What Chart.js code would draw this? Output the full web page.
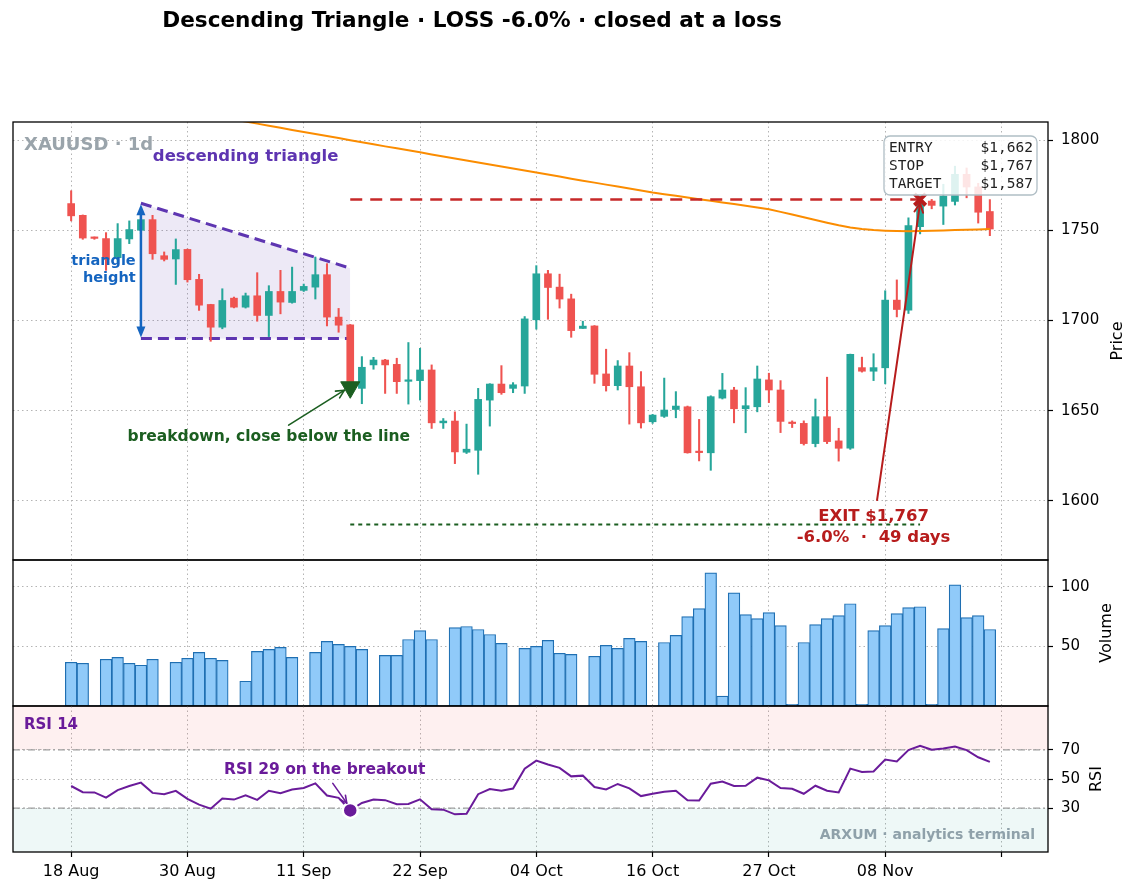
<!DOCTYPE html>
<html>
<head>
<meta charset="utf-8">
<script src="https://cdn.jsdelivr.net/npm/chart.js@4.4.1/dist/chart.umd.min.js"></script>
<style>
html,body{margin:0;padding:0;background:#fff;}
#wrap{position:relative;width:1139px;height:894px;overflow:hidden;background:#fff;}
canvas{position:absolute;left:0;}
</style>
</head>
<body>
<div id="wrap">
<canvas id="cPrice" width="1139" height="562" style="top:0px"></canvas>
<canvas id="cVol" width="1139" height="149" style="top:559px"></canvas>
<canvas id="cRsi" width="1139" height="189" style="top:705px"></canvas>
</div>
<script>
// ---------------- data ----------------
const tickIdx = [0, 10, 20, 30, 40, 50, 60, 70, 80];
const xLabels = ['18 Aug', '30 Aug', '11 Sep', '22 Sep', '04 Oct', '16 Oct', '27 Oct', '08 Nov', ''];

const opens = [
1764.8, 1758.3, 1746.0, 1745.4, 1734.8, 1745.2, 1750.0, 1755.9, 1735.9, 1734.1,
1739.4, 1722.8, 1708.9, 1696.3, 1712.4, 1707.4, 1713.7, 1702.8, 1716.1, 1710.0,
1716.7, 1718.5, 1725.4, 1701.9, 1697.6, 1662.4, 1675.4, 1678.1, 1675.7, 1666.3,
1666.7, 1672.6, 1643.3, 1644.3, 1627.0, 1628.1, 1655.9, 1664.8, 1662.4, 1663.7,
1700.4, 1725.9, 1718.5, 1712.0, 1695.6, 1697.0, 1670.4, 1663.9, 1674.8, 1663.3,
1643.9, 1646.9, 1650.7, 1652.2, 1627.2, 1626.7, 1657.0, 1661.5, 1651.1, 1652.2,
1667.1, 1661.5, 1643.2, 1643.0, 1631.8, 1646.7, 1633.3, 1629.2, 1673.9, 1671.9,
1673.8, 1711.3, 1705.8, 1752.0, 1766.2, 1763.4, 1766.0, 1781.0, 1774.0, 1760.4
];
const highs = [
1771.9, 1758.5, 1746.3, 1748.7, 1753.7, 1755.2, 1758.0, 1758.3, 1738.0, 1745.2,
1739.6, 1725.6, 1709.0, 1717.6, 1713.0, 1715.2, 1726.5, 1719.3, 1727.8, 1729.6,
1720.2, 1735.2, 1731.5, 1706.7, 1697.8, 1680.0, 1679.6, 1678.5, 1679.1, 1687.8,
1684.6, 1675.4, 1645.7, 1649.4, 1642.6, 1662.4, 1665.0, 1675.0, 1665.6, 1702.2,
1730.4, 1727.8, 1725.7, 1714.6, 1699.6, 1697.2, 1684.1, 1677.8, 1682.2, 1671.7,
1648.0, 1668.1, 1660.6, 1652.6, 1645.2, 1658.3, 1670.7, 1663.0, 1662.8, 1674.8,
1670.8, 1666.7, 1644.4, 1644.4, 1656.5, 1668.6, 1640.3, 1681.4, 1679.7, 1681.6,
1716.5, 1722.5, 1756.9, 1769.0, 1767.1, 1775.5, 1785.5, 1784.5, 1776.0, 1767.0
];
const lows = [
1755.2, 1745.0, 1745.0, 1727.8, 1732.4, 1742.6, 1748.0, 1733.9, 1733.0, 1720.0,
1721.3, 1705.6, 1688.5, 1695.4, 1707.0, 1706.9, 1699.6, 1691.1, 1703.7, 1709.6,
1716.1, 1711.9, 1697.0, 1693.5, 1660.0, 1653.9, 1673.0, 1659.6, 1659.6, 1653.7,
1655.9, 1640.2, 1640.2, 1620.7, 1626.3, 1614.8, 1641.5, 1659.1, 1660.0, 1659.6,
1695.2, 1700.7, 1706.9, 1690.7, 1695.6, 1665.2, 1660.9, 1661.5, 1642.6, 1640.4,
1643.0, 1646.3, 1646.1, 1626.5, 1622.2, 1617.0, 1656.5, 1643.3, 1637.8, 1649.4,
1654.5, 1637.9, 1640.7, 1631.0, 1630.0, 1631.8, 1622.1, 1628.6, 1671.4, 1666.7,
1664.9, 1702.0, 1703.9, 1748.0, 1761.9, 1753.2, 1764.0, 1768.0, 1754.0, 1747.0
];
const closes = [
1758.0, 1745.7, 1745.5, 1733.9, 1745.4, 1750.4, 1755.9, 1737.0, 1733.9, 1739.3,
1722.6, 1708.5, 1696.3, 1711.1, 1707.4, 1713.7, 1702.8, 1716.1, 1710.2, 1716.1,
1718.9, 1725.4, 1701.9, 1697.4, 1662.0, 1674.1, 1678.1, 1675.4, 1666.1, 1666.7,
1672.6, 1643.3, 1644.3, 1627.2, 1628.7, 1656.3, 1664.8, 1660.0, 1664.4, 1700.9,
1725.9, 1718.3, 1711.9, 1694.4, 1696.9, 1670.2, 1663.9, 1674.8, 1663.3, 1643.3,
1647.6, 1650.4, 1652.6, 1626.7, 1626.8, 1657.8, 1661.5, 1651.1, 1652.8, 1667.6,
1661.5, 1644.1, 1642.9, 1631.8, 1646.7, 1632.9, 1629.2, 1681.2, 1671.9, 1673.9,
1711.3, 1706.1, 1752.6, 1766.0, 1763.8, 1769.0, 1781.0, 1774.0, 1760.0, 1750.7
];
const movingAvg = [
1827.5, 1826.3, 1825.2, 1824.0, 1822.9, 1821.7, 1820.6, 1819.4, 1818.3, 1817.1,
1816.0, 1814.8, 1813.7, 1812.5, 1811.4, 1810.2, 1809.1, 1807.9, 1806.8, 1805.6,
1804.5, 1803.4, 1802.2, 1801.1, 1799.9, 1798.8, 1797.7, 1796.5, 1795.4, 1794.3,
1793.2, 1792.0, 1790.9, 1789.8, 1788.7, 1787.5, 1786.4, 1785.3, 1784.2, 1783.1,
1782.0, 1780.9, 1779.8, 1778.6, 1777.5, 1776.4, 1775.3, 1774.2, 1773.1, 1772.0,
1770.9, 1770.0, 1769.1, 1768.2, 1767.2, 1766.3, 1765.4, 1764.5, 1763.6, 1762.6,
1761.6, 1760.2, 1758.7, 1757.2, 1755.7, 1754.2, 1752.8, 1751.6, 1750.7, 1750.1,
1749.8, 1749.6, 1749.5, 1749.6, 1749.7, 1749.9, 1750.1, 1750.3, 1750.5, 1750.7
];
const volumes = [
36.7, 35.8, 0.3, 39.2, 40.8, 35.8, 34.2, 39.2, 0.3, 36.7,
40.0, 45.0, 40.0, 38.3, 0.3, 20.8, 45.8, 47.5, 49.2, 40.8,
0.3, 45.0, 54.2, 51.7, 50.0, 47.5, 0.3, 42.5, 42.5, 55.8,
63.3, 55.8, 0.3, 65.8, 66.7, 64.2, 60.0, 52.5, 0.3, 48.3,
50.0, 55.0, 44.2, 43.3, 0.3, 41.7, 50.8, 48.3, 56.7, 54.2,
0.5, 53.3, 59.2, 75.0, 81.7, 111.7, 8.3, 95.0, 76.7, 73.3,
78.3, 67.5, 1.5, 53.3, 68.3, 73.3, 75.8, 85.8, 1.5, 63.3,
67.5, 77.5, 82.5, 83.3, 1.5, 65.0, 101.7, 74.2, 75.8, 64.2
];
const rsi = [
45.2, 41.0, 40.8, 37.3, 42.4, 45.2, 47.5, 40.5, 39.6, 41.9,
36.4, 32.4, 29.7, 36.6, 35.9, 38.9, 35.7, 41.9, 40.3, 42.8,
43.8, 47.0, 38.7, 37.1, 28.5, 33.6, 35.9, 35.5, 32.7, 32.9,
36.1, 29.2, 29.0, 25.8, 26.2, 39.6, 43.1, 41.9, 43.5, 57.0,
62.6, 59.9, 57.6, 51.8, 52.3, 44.5, 42.9, 46.6, 43.6, 38.3,
39.9, 41.3, 42.0, 35.5, 35.3, 46.8, 48.2, 45.2, 45.4, 50.9,
49.1, 43.8, 43.3, 39.9, 45.4, 42.0, 40.8, 57.1, 54.8, 55.1,
63.3, 62.0, 69.8, 72.8, 70.0, 70.9, 72.3, 69.8, 64.9, 61.7
];
const priceTicks = [1600, 1650, 1700, 1750, 1800];
const volTicks = [50, 100];
const rsiTicks = [30, 50, 70];

const triX = [6, 24];
const triUpper = [1765, 1729];
const triLower = [1690, 1690];
const entryIdx = 24, entryPrice = 1662, entryMarker = 1663;
const exitIdx = 73, stopPrice = 1767, targetPrice = 1587;
const rsiBreakout = 28.5;

// ---------------- settings ----------------
const X_MIN = -5, X_MAX = 84;
const AXIS_W = 91;
const GRID = '#b4b4b4';
const UP = '#26a69a', DOWN = '#ef5350';
const FF = "'DejaVu Sans', sans-serif";
Chart.defaults.font.family = FF;
Chart.defaults.color = '#000';

const idx = opens.map((_, i) => i);
const candleColors = idx.map(i => closes[i] >= opens[i] ? UP : DOWN);

function fixY(ax) { ax.width = AXIS_W; ax.paddingTop = 0; ax.paddingBottom = 0; }

function xScale(showLabels) {
  return {
    type: 'linear', min: X_MIN, max: X_MAX, offset: false,
    afterBuildTicks: ax => { ax.ticks = tickIdx.map(v => ({ value: v })); },
    grid: { color: GRID, lineWidth: 1, offset: false, drawTicks: showLabels, tickLength: 5, tickColor: '#000', tickWidth: 1.2, tickBorderDash: [] },
    border: { display: false, dash: [1.5, 3] },
    ticks: { display: showLabels, autoSkip: false, maxRotation: 0, minRotation: 0, padding: 5,
             font: { size: 16 }, color: '#000', callback: (v, i) => xLabels[i] },
    afterFit: ax => { ax.paddingLeft = 0; ax.paddingRight = 0; if (showLabels) ax.height = 42; }
  };
}
function yScale(min, max, ticks) {
  return {
    type: 'linear', position: 'right', min: min, max: max,
    afterBuildTicks: ax => { ax.ticks = ticks.map(v => ({ value: v })); },
    grid: { color: GRID, lineWidth: 1, drawTicks: true, tickLength: 5, tickColor: '#000', tickWidth: 1.2, tickBorderDash: [] },
    border: { display: false, dash: [1.5, 3] },
    ticks: { padding: 8, font: { size: 15 }, color: '#000', callback: v => String(v) },
    afterFit: fixY
  };
}
const basePlugins = { legend: { display: false }, tooltip: { enabled: false }, title: { display: false } };

// ---------------- drawing helpers ----------------
function txt(ctx, s, x, y, font, color, align) {
  ctx.font = font; ctx.fillStyle = color; ctx.textAlign = align || 'center'; ctx.textBaseline = 'middle';
  ctx.fillText(s, x, y);
}
function openHead(ctx, x, y, ang, len, spread) {
  ctx.beginPath();
  ctx.moveTo(x - len * Math.cos(ang - spread), y - len * Math.sin(ang - spread));
  ctx.lineTo(x, y);
  ctx.lineTo(x - len * Math.cos(ang + spread), y - len * Math.sin(ang + spread));
  ctx.stroke();
}
function filledHead(ctx, x, y, ang, len, half) {
  const bx = x - len * Math.cos(ang), by = y - len * Math.sin(ang);
  ctx.beginPath();
  ctx.moveTo(x, y);
  ctx.lineTo(bx + half * Math.sin(ang), by - half * Math.cos(ang));
  ctx.lineTo(bx - half * Math.sin(ang), by + half * Math.cos(ang));
  ctx.closePath(); ctx.fill();
}
function simpleArrow(ctx, x1, y1, x2, y2, color, lw, len) {
  ctx.save();
  ctx.strokeStyle = color; ctx.lineWidth = lw; ctx.lineCap = 'round'; ctx.lineJoin = 'round';
  ctx.beginPath(); ctx.moveTo(x1, y1); ctx.lineTo(x2, y2); ctx.stroke();
  openHead(ctx, x2, y2, Math.atan2(y2 - y1, x2 - x1), len, 0.45);
  ctx.restore();
}
function frame(chart) {
  const { ctx, chartArea: a } = chart;
  ctx.save(); ctx.strokeStyle = '#000'; ctx.lineWidth = 1.3;
  ctx.strokeRect(a.left, a.top, a.right - a.left, a.bottom - a.top);
  ctx.restore();
}
function yTitle(chart, s, xPos) {
  const { ctx, chartArea: a } = chart;
  ctx.save();
  ctx.translate(xPos, (a.top + a.bottom) / 2);
  ctx.rotate(-Math.PI / 2);
  txt(ctx, s, 0, 0, '16px ' + FF, '#000', 'center');
  ctx.restore();
}

// ---------------- price chart ----------------
const pricePlugin = {
  id: 'pricePlugin',
  afterDatasetsDraw(chart) {
    const { ctx, chartArea: a, scales: { x, y } } = chart;
    const X = v => x.getPixelForValue(v), Y = v => y.getPixelForValue(v);
    ctx.save();
    txt(ctx, 'XAUUSD · 1d', a.left + 11, a.top + 23, 'bold 18px ' + FF, '#9aa4ab', 'left');
    txt(ctx, 'descending triangle', X(15), Y(1790.8), 'bold 16.5px ' + FF, '#5e35b1', 'center');
    // triangle height arrow
    ctx.strokeStyle = '#1565c0'; ctx.fillStyle = '#1565c0'; ctx.lineWidth = 2.5;
    const ax = X(triX[0]), ay1 = Y(triUpper[0]), ay2 = Y(triLower[0]);
    ctx.beginPath(); ctx.moveTo(ax, ay1 + 8); ctx.lineTo(ax, ay2 - 8); ctx.stroke();
    filledHead(ctx, ax, ay1 + 1, -Math.PI / 2, 11, 4.5);
    filledHead(ctx, ax, ay2 - 1, Math.PI / 2, 11, 4.5);
    txt(ctx, 'triangle', X(5.55), Y(1733), 'bold 14.5px ' + FF, '#1565c0', 'right');
    txt(ctx, 'height', X(5.55), Y(1723.2), 'bold 14.5px ' + FF, '#1565c0', 'right');
    // breakdown annotation
    simpleArrow(ctx, X(18.7), Y(1642), X(23.5), Y(1661.4), '#1b5e20', 1.6, 9);
    txt(ctx, 'breakdown, close below the line', X(17), Y(1635.3), 'bold 15.5px ' + FF, '#1b5e20', 'center');
    // exit annotation
    simpleArrow(ctx, X(69.3), Y(1600.5), X(exitIdx), Y(1765), '#b71c1c', 2, 10);
    txt(ctx, 'EXIT $1,767', X(69.0), Y(1591.4), 'bold 16.5px ' + FF, '#b71c1c', 'center');
    txt(ctx, '-6.0%  ·  49 days', X(69.0), Y(1579.7), 'bold 16.5px ' + FF, '#b71c1c', 'center');
    // info box
    const bw = 153, bh = 59, br = a.right - 11, bt = a.top + 14, bl = br - bw;
    ctx.beginPath();
    ctx.roundRect(bl, bt, bw, bh, 6);
    ctx.fillStyle = 'rgba(255,255,255,0.85)'; ctx.fill();
    ctx.strokeStyle = '#b0bec5'; ctx.lineWidth = 1.3; ctx.stroke();
    const rows = [['ENTRY', '$1,662'], ['STOP', '$1,767'], ['TARGET', '$1,587']];
    rows.forEach((r, k) => {
      txt(ctx, r[0], bl + 5, bt + 12 + k * 18, "14.5px 'DejaVu Sans Mono', monospace", '#222', 'left');
      txt(ctx, r[1], br - 4, bt + 12 + k * 18, "14.5px 'DejaVu Sans Mono', monospace", '#222', 'right');
    });
    ctx.restore();
  },
  afterDraw(chart) {
    frame(chart);
    const { ctx } = chart;
    ctx.save();
    txt(ctx, 'Descending Triangle · LOSS -6.0% · closed at a loss', 472, 21, 'bold 21.6px ' + FF, '#000', 'center');
    ctx.restore();
    yTitle(chart, 'Price', 1118);
  }
};

new Chart(document.getElementById('cPrice'), {
  type: 'bar',
  data: {
    datasets: [
      { type: 'line', data: idx.map(i => ({ x: i, y: movingAvg[i] })), borderColor: '#fb8c00', borderWidth: 2,
        pointRadius: 0, tension: 0, fill: false, order: 3 },
      { type: 'line', data: triX.map((v, k) => ({ x: v, y: triUpper[k] })), borderColor: '#5e35b1', borderWidth: 3,
        borderDash: [11, 6], pointRadius: 0, fill: '+1', backgroundColor: 'rgba(94,53,177,0.11)', order: 9 },
      { type: 'line', data: triX.map((v, k) => ({ x: v, y: triLower[k] })), borderColor: '#5e35b1', borderWidth: 3,
        borderDash: [11, 6], pointRadius: 0, fill: false, order: 8 },
      { data: idx.map(i => ({ x: i, y: [lows[i], highs[i]] })), backgroundColor: candleColors, barThickness: 1.4,
        grouped: false, minBarLength: 1, order: 6 },
      { data: idx.map(i => ({ x: i, y: [opens[i], closes[i]] })), backgroundColor: candleColors, barThickness: 7,
        grouped: false, minBarLength: 1.5, order: 5 },
      { type: 'line', data: [{ x: entryIdx, y: stopPrice }, { x: exitIdx, y: stopPrice }], borderColor: '#c62828',
        borderWidth: 2.5, borderDash: [12, 8], pointRadius: 0, fill: false, order: 2 },
      { type: 'line', data: [{ x: entryIdx, y: targetPrice }, { x: exitIdx, y: targetPrice }], borderColor: '#1b5e20',
        borderWidth: 2, borderDash: [4, 4], pointRadius: 0, fill: false, order: 2 },
      { type: 'line', data: [{ x: entryIdx, y: entryMarker }], showLine: false, pointStyle: 'triangle', pointRotation: 180,
        pointRadius: 11, pointBackgroundColor: '#1b5e20', pointBorderColor: '#1b5e20', pointBorderWidth: 1, order: 1 },
      { type: 'line', data: [{ x: exitIdx, y: stopPrice }], showLine: false, pointStyle: 'crossRot',
        pointRadius: 8, pointBorderColor: '#b71c1c', pointBorderWidth: 4, order: 1 }
    ]
  },
  options: {
    responsive: false, animation: false, events: [],
    layout: { autoPadding: false, padding: { top: 122, left: 13, right: 0, bottom: 2 } },
    plugins: basePlugins,
    scales: { x: xScale(false), y: yScale(1567.3, 1810, priceTicks) }
  },
  plugins: [pricePlugin]
});

// ---------------- volume chart ----------------
new Chart(document.getElementById('cVol'), {
  type: 'bar',
  data: {
    datasets: [{
      data: idx.map(i => ({ x: i, y: volumes[i] })), backgroundColor: '#90caf9', borderColor: '#1f6fb2',
      borderWidth: 1.2, borderSkipped: false, barThickness: 11.63, grouped: false
    }]
  },
  options: {
    responsive: false, animation: false, events: [],
    layout: { autoPadding: false, padding: { top: 1, left: 13, right: 0, bottom: 2 } },
    plugins: basePlugins,
    scales: { x: xScale(false), y: yScale(0, 122.5, volTicks) }
  },
  plugins: [{ id: 'volFrame', afterDraw(chart) { frame(chart); yTitle(chart, 'Volume', 1107); } }]
});

// ---------------- RSI chart ----------------
const rsiPlugin = {
  id: 'rsiPlugin',
  afterDatasetsDraw(chart) {
    const { ctx, chartArea: a, scales: { x, y } } = chart;
    const X = v => x.getPixelForValue(v), Y = v => y.getPixelForValue(v);
    ctx.save();
    txt(ctx, 'RSI 14', a.left + 11, a.top + 19, 'bold 15px ' + FF, '#6a1b9a', 'left');
    txt(ctx, 'RSI 29 on the breakout', X(21.8), Y(56), 'bold 15.5px ' + FF, '#6a1b9a', 'center');
    simpleArrow(ctx, X(22.5), Y(47), X(23.7), Y(33.5), '#6a1b9a', 1.6, 8);
    txt(ctx, 'ARXUM · analytics terminal', a.right - 13, a.bottom - 17, 'bold 14px ' + FF, '#8fa1aa', 'right');
    ctx.restore();
  },
  afterDraw(chart) { frame(chart); yTitle(chart, 'RSI', 1097); }
};

new Chart(document.getElementById('cRsi'), {
  type: 'line',
  data: {
    datasets: [
      { data: [{ x: X_MIN, y: 100 }, { x: X_MAX, y: 100 }], borderColor: 'transparent', borderWidth: 0, pointRadius: 0,
        fill: { value: 70 }, backgroundColor: 'rgba(239,83,80,0.085)', order: 10 },
      { data: [{ x: X_MIN, y: 0 }, { x: X_MAX, y: 0 }], borderColor: 'transparent', borderWidth: 0, pointRadius: 0,
        fill: { value: 30 }, backgroundColor: 'rgba(38,166,154,0.08)', order: 10 },
      { data: [{ x: X_MIN, y: 70 }, { x: X_MAX, y: 70 }], borderColor: '#9e9e9e', borderWidth: 1.2,
        borderDash: [7, 3, 2, 3], pointRadius: 0, fill: false, order: 5 },
      { data: [{ x: X_MIN, y: 30 }, { x: X_MAX, y: 30 }], borderColor: '#9e9e9e', borderWidth: 1.2,
        borderDash: [7, 3, 2, 3], pointRadius: 0, fill: false, order: 5 },
      { data: idx.map(i => ({ x: i, y: rsi[i] })), borderColor: '#6a1b9a', borderWidth: 2, pointRadius: 0,
        tension: 0, fill: false, order: 2 },
      { data: [{ x: entryIdx, y: rsiBreakout }], showLine: false, pointRadius: 7.5, pointBackgroundColor: '#6a1b9a',
        pointBorderColor: '#ffffff', pointBorderWidth: 2.5, order: 1 }
    ]
  },
  options: {
    responsive: false, animation: false, events: [],
    layout: { autoPadding: false, padding: { top: 1, left: 13, right: 0, bottom: 0 } },
    plugins: basePlugins,
    scales: { x: xScale(true), y: yScale(0, 100, rsiTicks) }
  },
  plugins: [rsiPlugin]
});
</script>
</body>
</html>
